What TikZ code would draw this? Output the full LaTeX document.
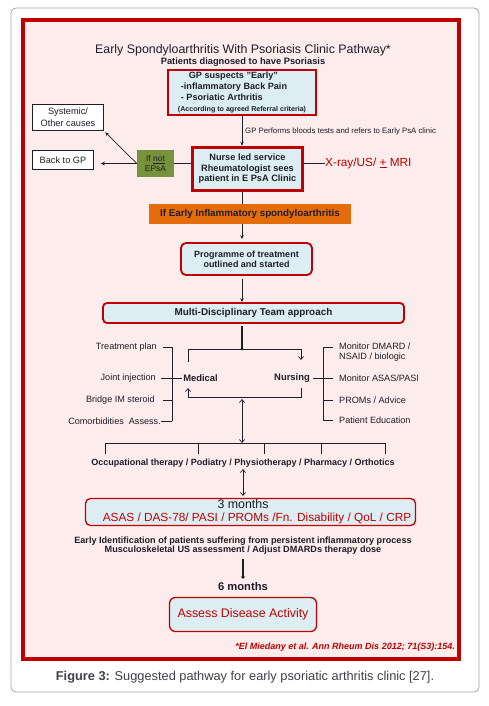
\documentclass[tikz,border=0pt]{standalone}
\usepackage{fontspec}
\setmainfont{Liberation Sans}
\usetikzlibrary{arrows.meta}
\definecolor{frame}{HTML}{C00000}
\definecolor{pinkbg}{HTML}{FDECEC}
\definecolor{bluebox}{HTML}{DCEEF4}
\definecolor{orangebox}{HTML}{E46C0A}
\definecolor{greenbox}{HTML}{76923C}
\definecolor{ink}{HTML}{1E1E28}
\definecolor{redtext}{HTML}{C00000}
\definecolor{grayframe}{HTML}{A6A6A6}
\newcommand\fsz[2]{\fontsize{#1}{#2}\selectfont}
\begin{document}
\begin{tikzpicture}[x=1pt,y=-1pt,
  conn/.style={draw=ink, line width=0.7pt},
  sarrow/.style={conn, -{Stealth[length=4pt,width=3.5pt]}},
  barb/.style={conn, -{Straight Barb[length=3pt,width=5pt]}},
  dbarb/.style={conn, {Straight Barb[length=3pt,width=5pt]}-{Straight Barb[length=3pt,width=5pt]}},
  bluebx/.style={draw=frame, fill=bluebox, inner sep=0pt, text=ink},
  plain/.style={inner sep=0pt, text=ink},
  wbox/.style={draw=ink, line width=0.7pt, fill=white, inner sep=0pt, text=ink, align=center},
  listtxt/.style={plain, font=\fsz{9.1}{10}},
]
\useasboundingbox (0,0) rectangle (488,706);
\fill[white] (0,0) rectangle (488,706);
\draw[grayframe, line width=0.8pt, rounded corners=5pt] (11,8) rectangle (479,692);
\draw[frame, line width=3.6pt, fill=pinkbg] (23,20) rectangle (459,659);

% titles
\node[plain, font=\fsz{12.4}{14}] (title) at (243,50) {Early Spondyloarthritis With Psoriasis Clinic Pathway*};
\node[plain, font=\bfseries\fsz{9.3}{11}] (subtitle) at (243,62) {Patients diagnosed to have Psoriasis};

% GP box
\node[bluebx, line width=2pt, minimum width=148pt, minimum height=45pt, align=left, font=\bfseries\fsz{9.1}{10.8}] (gp) at (242,92.5)
 {\hspace*{11pt}GP suspects "Early"\\\hspace*{3pt}-inflammatory Back Pain\\\hspace*{3pt}- Psoriatic Arthritis\\{\fsz{7.1}{10.4}(According to agreed Referral criteria)}};

% side boxes
\node[wbox, minimum width=71pt, minimum height=26pt, font=\fsz{9.2}{12}] (sys) at (68,117.5) {Systemic/\\Other causes};
\node[wbox, minimum width=61pt, minimum height=19pt, font=\fsz{9.2}{10}] (back) at (63,160) {Back to GP};
\node[fill=greenbox, inner sep=0pt, minimum width=37pt, minimum height=27pt, align=center, text=ink, font=\fsz{8.4}{10.5}] (green) at (155.5,163.5) {If \underline{not}\\EPsA};

% nurse box
\node[bluebx, line width=3.5pt, minimum width=110pt, minimum height=43pt, align=center, font=\bfseries\fsz{9.2}{10.6}] (nurse) at (247.5,169)
 {Nurse led service\\Rheumatologist sees\\patient in E PsA Clinic};
\node[inner sep=0pt, anchor=west, text=redtext, font=\fsz{11.8}{13}] (xray) at (325,163) {X-ray/US/ \underline{+} MRI};

\node[plain, anchor=west, font=\fsz{7.8}{9}] (gplabel) at (245,131) {GP Performs bloods tests and refers to Early PsA clinic};

% orange
\node[fill=orangebox, inner sep=0pt, minimum width=202pt, minimum height=20pt, text=ink, font=\bfseries\fsz{9.8}{11}] (orange) at (250,214) {If Early Inflammatory spondyloarthritis};

% programme
\node[bluebx, line width=1.8pt, rounded corners=5pt, minimum width=131pt, minimum height=32pt, align=center, font=\bfseries\fsz{9}{10.2}] (prog) at (246.5,259) {Programme of treatment\\outlined and started};

% MDT
\node[bluebx, line width=1.8pt, rounded corners=4pt, minimum width=301pt, minimum height=20pt, font=\bfseries\fsz{9.9}{11}] (mdt) at (253.5,313) {Multi-Disciplinary Team approach};

% medical / nursing
\node[plain, font=\bfseries\fsz{9.4}{10}] (medical) at (200.5,378) {Medical};
\node[plain, font=\bfseries\fsz{9.4}{10}] (nursing) at (292,378) {Nursing};

% left list
\node[listtxt, anchor=east] (tp) at (157,347) {Treatment plan};
\node[listtxt, anchor=east] (ji) at (156,378) {Joint injection};
\node[listtxt, anchor=east] (bim) at (155,400) {Bridge IM steroid};
\node[listtxt, anchor=east] (ca) at (161,421) {Comorbidities\ \ Assess.};

% right list
\node[listtxt, anchor=west, align=left, font=\fsz{9.1}{10.5}] (mdm) at (339,352) {Monitor DMARD /\\NSAID / biologic};
\node[listtxt, anchor=west] (mas) at (339,378) {Monitor ASAS/PASI};
\node[listtxt, anchor=west] (prom) at (339,400) {PROMs / Advice};
\node[listtxt, anchor=west] (pe) at (339,420) {Patient Education};

% disciplines
\node[plain, font=\bfseries\fsz{9}{10}] (disc) at (243,463) {Occupational therapy / Podiatry / Physiotherapy / Pharmacy / Orthotics};

% 3 months
\node[bluebx, line width=1.3pt, rounded corners=5pt, minimum width=330pt, minimum height=27pt] (three) at (250.5,512) {};
\node[plain, font=\fsz{12.4}{13}] (threet) at (243,504.5) {3 months};
\node[inner sep=0pt, text=redtext, font=\fsz{11.8}{13}] (threel) at (257,518.5) {ASAS / DAS-78/ PASI / PROMs /Fn. Disability / QoL / CRP};

\node[plain, align=center, font=\bfseries\fsz{9.1}{9.5}] (early) at (243,545.5) {Early Identification of patients suffering from persistent inflammatory process\\Musculoskeletal US assessment / Adjust DMARDs therapy dose};

\node[plain, font=\bfseries\fsz{11.2}{12}] (six) at (243,586) {6 months};
\node[bluebx, line width=1.3pt, rounded corners=6pt, minimum width=147pt, minimum height=34pt, text=redtext, font=\fsz{12.4}{13}] (assess) at (243,614.5) {Assess Disease Activity};

\node[inner sep=0pt, anchor=east, text=redtext, font=\bfseries\itshape\fsz{9}{10}] (cite) at (455,647) {*El Miedany et al. Ann Rheum Dis 2012; 71(S3):154.};

\node[inner sep=0pt, text=ink!85, font=\fsz{12.8}{14}] (caption) at (245,677) {\textbf{Figure 3:} Suggested pathway for early psoriatic arthritis clinic [27].};

% ---- connectors ----
\draw[sarrow] (gp.south) -- (gp.south |- nurse.north);
\draw[conn] (green.east) -- (green.east -| nurse.west);
\draw[sarrow, shorten >=7pt] (green.west) -- (green.west -| back.east);
\draw[sarrow, shorten >=2pt] (green.west) -- (sys.south east);
\draw[conn] (xray.west -| nurse.east) -- (xray.west);
\draw[conn] (nurse.south -| gp.south) -- (orange.north -| gp.south);
\draw[sarrow, shorten >=3pt] (orange.south -| gp.south) -- (prog.north -| gp.south);
\draw[sarrow, shorten <=3pt] (prog.south -| gp.south) -- (mdt.north -| gp.south);

% split
\coordinate (split) at (242,349);
\coordinate (sl) at (188,349);
\coordinate (sr) at (301,349);
\draw[draw=ink, line width=1.3pt, shorten <=2pt] (mdt.south -| split) -- (split);
\fill[ink] (split) circle (1.5pt);
\draw[conn] (sl) -- (sr);
\draw[conn] (sl) -- (188,362);
\draw[barb] (sr) -- (301,360);
% loop
\coordinate (ll) at (188,397);
\coordinate (lr) at (301,397);
\draw[barb] (301,388) -- (lr) -- (ll) -- (188,388);

% bracket bottom
\coordinate (bb) at (242,443);
\draw[dbarb] (242,399) -- (bb);
\draw[conn] (105,454) -- (105,443) -- (385,443) -- (385,454);
\foreach \xx in {198,264,321} \draw[conn] (\xx,443) -- (\xx,454);

% left bracket
\draw[conn] (172,347) -- (172,421);
\draw[conn] (163,347) -- (172,347);
\draw[conn] (161,378) -- (182,378);
\draw[conn] (163,400) -- (172,400);
\draw[conn] (ca.east) -- (172,421);

% right bracket
\draw[conn] (313,378) -- (323,378);
\draw[conn] (323,347) -- (323,420);
\foreach \yy in {347,378,400,420} \draw[conn] (323,\yy) -- (333,\yy);

% disciplines to 3 months
\draw[dbarb] (243,469) -- (243,496);
% to 6 months
\draw[draw=ink, line width=2.4pt] (243,559) -- (243,576);
\fill[ink] (243,577) circle (1.8pt);
\end{tikzpicture}
\end{document}
